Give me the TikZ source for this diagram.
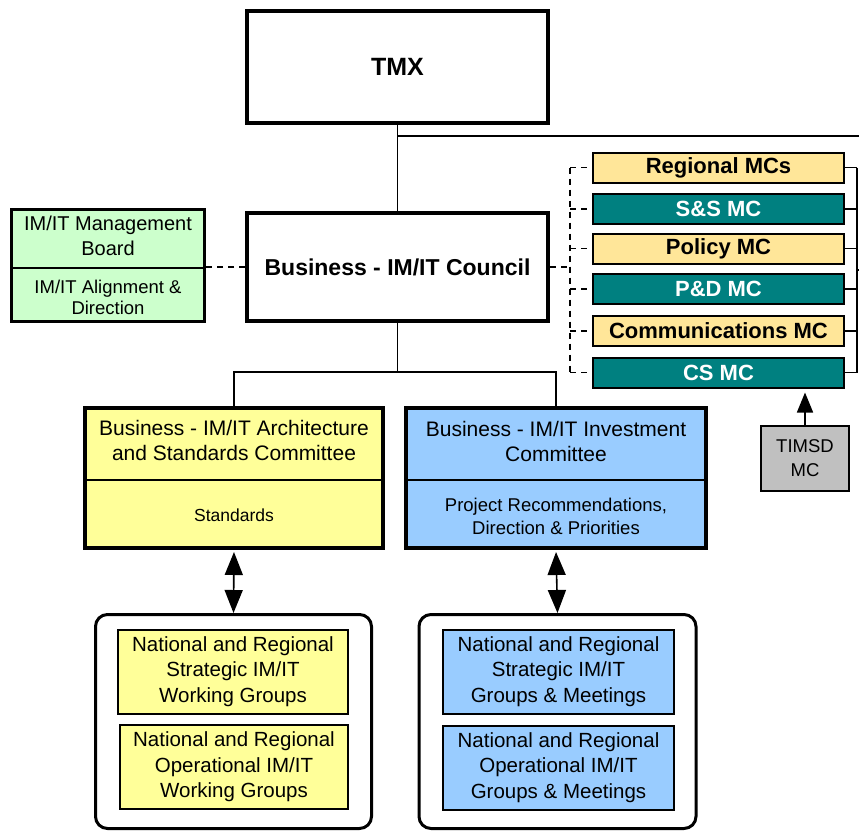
\documentclass[tikz,border=0pt]{standalone}
\usepackage{fontspec}
\setmainfont{Liberation Sans}
\usetikzlibrary{arrows.meta}

\definecolor{mcsand}{HTML}{FFE699}
\definecolor{mcteal}{HTML}{008080}
\definecolor{archyellow}{HTML}{FFFF99}
\definecolor{invblue}{HTML}{99CCFF}
\definecolor{boardgreen}{HTML}{CCFFCC}
\definecolor{timsdgray}{HTML}{C0C0C0}

\newcommand{\fsz}[2]{\fontsize{#1}{#2}\selectfont}

\tikzset{
  heavybox/.style={draw, line width=4pt, inner sep=0pt},
  boardbox/.style={draw, line width=3pt, inner sep=0pt, fill=boardgreen},
  mcbox/.style={draw, line width=2pt, inner sep=0pt, minimum width=251pt, minimum height=30pt,
                font=\fsz{22}{26}\bfseries},
  mcsandbox/.style={mcbox, fill=mcsand, text=black},
  mctealbox/.style={mcbox, fill=mcteal, text=white},
  groupbox/.style={draw, line width=3pt, rounded corners=12pt, inner sep=0pt,
                   minimum width=276pt, minimum height=214pt},
  wgbox/.style={draw, line width=2pt, inner sep=0pt, minimum width=230pt, minimum height=84pt,
                align=center, font=\fsz{20.5}{25.5}},
  txt/.style={inner sep=0pt, align=center},
  conn/.style={line width=1.6pt},
  dashconn/.style={line width=1.6pt, dash pattern=on 6pt off 5pt},
  divider/.style={line width=2pt},
  twoway/.style={line width=1.6pt, shorten <=2pt,
    arrows={Triangle[length=23pt,width=18pt]-Triangle[length=23pt,width=18pt]}},
  oneway/.style={line width=1.6pt, shorten >=4pt,
    arrows={-Triangle[length=20pt,width=16pt]}}
}

\begin{document}
\begin{tikzpicture}[x=1pt,y=-1pt]
\useasboundingbox (0,0) rectangle (859,831);

% top of the hierarchy
\node[heavybox, minimum width=301pt, minimum height=112pt, font=\fsz{25}{29}\bfseries]
  (tmx) at (397.5,67) {TMX};
\node[heavybox, minimum width=301pt, minimum height=108pt, font=\fsz{23}{27}\bfseries]
  (council) at (397.5,267) {Business - IM/IT Council};

% management board with its two parts
\node[boardbox, minimum width=193pt, minimum height=112pt] (board) at (108,265.5) {};
\coordinate (boarddiv) at (0,268);
\draw[divider] (board.west |- boarddiv) -- (board.east |- boarddiv);
\node[txt, font=\fsz{20}{25}] (boardT) at (108,236) {IM/IT Management\\Board};
\node[txt, font=\fsz{18.5}{21.5}] (boardB) at (108,297.5) {IM/IT Alignment \&\\Direction};

% management committees
\node[mcsandbox]  (regional) at (718.5,167.5) {Regional MCs};
\node[mctealbox]  (ss)       at (718.5,209)   {S\&S MC};
\node[mcsandbox]  (policy)   at (718.5,248.5) {Policy MC};
\node[mctealbox]  (pd)       at (718.5,289)   {P\&D MC};
\node[mcsandbox]  (comms)    at (718.5,331)   {Communications MC};
\node[mctealbox]  (cs)       at (718.5,372.5) {CS MC};

\node[draw, line width=2pt, fill=timsdgray, inner sep=0pt, minimum width=88pt,
      minimum height=65pt, align=center, font=\fsz{18.5}{24}]
  (timsd) at (805,458.5) {TIMSD\\MC};

% committees
\node[heavybox, fill=archyellow, minimum width=298pt, minimum height=140pt] (arch) at (234,478) {};
\node[heavybox, fill=invblue, minimum width=300pt, minimum height=140pt] (inv) at (556,478) {};
\coordinate (comdiv) at (0,480);
\draw[divider] (arch.west |- comdiv) -- (arch.east |- comdiv);
\draw[divider] (inv.west |- comdiv) -- (inv.east |- comdiv);
\node[txt, font=\fsz{21}{25}] (archT) at (234,440.5) {Business - IM/IT Architecture\\and Standards Committee};
\node[txt, font=\fsz{17.5}{22}] (archB) at (234,515) {Standards};
\node[txt, font=\fsz{21}{25}] (invT) at (556,441) {Business - IM/IT Investment\\Committee};
\node[txt, font=\fsz{18.5}{23}] (invB) at (556,516.5) {Project Recommendations,\\Direction \& Priorities};

% working groups
\node[groupbox] (lgrp) at (233.5,721.5) {};
\node[groupbox, minimum width=277pt] (rgrp) at (557.5,721.5) {};
\node[wgbox, fill=archyellow] (lwg1) at (233,671.5) {National and Regional\\Strategic IM/IT\\Working Groups};
\node[wgbox, fill=archyellow, minimum width=228pt] (lwg2) at (234,767) {National and Regional\\Operational IM/IT\\Working Groups};
\node[wgbox, fill=invblue, minimum width=231pt] (rwg1) at (558.5,671.5) {National and Regional\\Strategic IM/IT\\Groups \& Meetings};
\node[wgbox, fill=invblue, minimum width=231pt] (rwg2) at (558.5,767.5) {National and Regional\\Operational IM/IT\\Groups \& Meetings};

% reporting lines
\coordinate (topright) at (859,136);
\draw[conn] (tmx.south) -- (council.north);
\draw[conn] (tmx.south |- topright) -- (topright);

\coordinate (split) at (0,372);
\draw[conn] (council.south) -- (council.south |- split);
\draw[conn] (arch.north) -- (arch.north |- split) -- (inv.north |- split) -- (inv.north);

\draw[twoway] (arch.south) -- (lgrp.north);
\draw[twoway] (inv.south) -- (rgrp.north);

% dashed links
\draw[dashconn] (council.west) -- (council.west -| board.east);
\coordinate (lbus) at (570,0);
\draw[dashconn] (council.east) -- (council.east -| lbus);
\draw[dashconn] (regional.west -| lbus) -- (cs.west -| lbus);
\foreach \m in {regional,ss,policy,pd,comms,cs}
  \draw[dashconn] (\m.west -| lbus) -- (\m.west);

% right-hand bus of the committees
\coordinate (rbus) at (857,0);
\draw[conn] (regional.east -| rbus) -- (cs.east -| rbus);
\foreach \m in {regional,ss,policy,pd,comms,cs}
  \draw[conn] (\m.east) -- (\m.east -| rbus);
\coordinate (rstub) at (859,270);
\draw[conn] (rstub -| rbus) -- (rstub);

\draw[oneway] (timsd.north) -- (timsd.north |- cs.south);
\end{tikzpicture}
\end{document}
